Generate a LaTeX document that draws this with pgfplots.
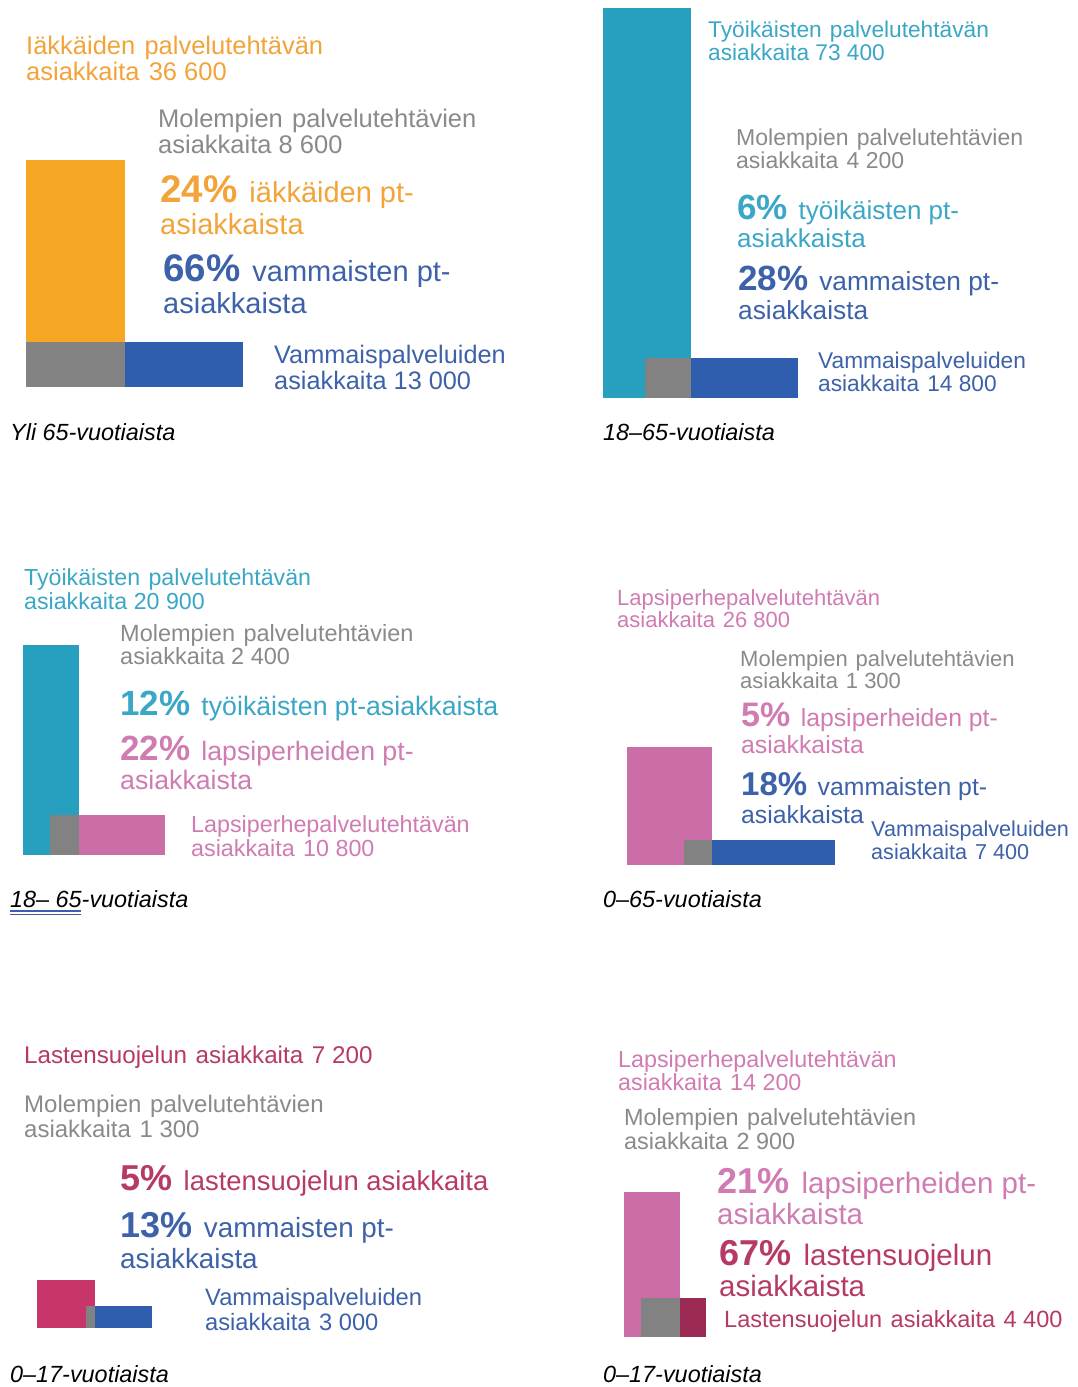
\documentclass[border=0pt]{standalone}
\usepackage{pgfplots}
\pgfplotsset{compat=1.18}
\usepackage{fontspec}
\setmainfont{Liberation Sans}
\definecolor{cOrange}{HTML}{F5A623}
\definecolor{tOrange}{HTML}{F2A43A}
\definecolor{cTeal}{HTML}{27A0C0}
\definecolor{tTeal}{HTML}{3AA7C6}
\definecolor{cGrey}{HTML}{828282}
\definecolor{tGrey}{HTML}{8A8A8A}
\definecolor{cBlue}{HTML}{2F5EAE}
\definecolor{tBlue}{HTML}{3D62AA}
\definecolor{cPink}{HTML}{CB6EA8}
\definecolor{tPink}{HTML}{D07CB2}
\definecolor{cCrim}{HTML}{C8356A}
\definecolor{cCrimD}{HTML}{9B2B55}
\definecolor{tCrim}{HTML}{B73A66}
\definecolor{ulBlue}{HTML}{3A5FB0}
% text line: x, baseline y, size, colour, text
\newcommand{\tl}[5]{\node[anchor=base west, inner sep=0pt, text=#4, font=\fontsize{#3}{#3}\selectfont] at (axis cs:#1,#2) {#5};}
\newcommand{\pc}[2]{{\bfseries\fontsize{#1}{#1}\selectfont #2\%}\hspace{0.42em}}
\newcommand{\s}{\hspace{0.36em}}
\begin{document}
\begin{tikzpicture}
\fill[white] (0,0) rectangle (1078pt,1387pt);
\useasboundingbox (0,0) rectangle (1078pt,1387pt);
\begin{axis}[at={(0,0)}, anchor=south west, scale only axis,
  width=1078pt, height=1387pt, xmin=0, xmax=1078, ymin=0, ymax=1387,
  y dir=reverse, hide axis, clip=false]
% ---- Panel 1: yli 65
\addplot[fill=cOrange, draw=none] coordinates {(26,160) (125,160) (125,387) (26,387)} --cycle;
\addplot[fill=cGrey, draw=none] coordinates {(26,342) (125,342) (125,387) (26,387)} --cycle;
\addplot[fill=cBlue, draw=none] coordinates {(125,342) (243,342) (243,387) (125,387)} --cycle;
% ---- Panel 2: 18-65
\addplot[fill=cTeal, draw=none] coordinates {(603,8) (691,8) (691,398) (603,398)} --cycle;
\addplot[fill=cGrey, draw=none] coordinates {(645,358) (691,358) (691,398) (645,398)} --cycle;
\addplot[fill=cBlue, draw=none] coordinates {(691,358) (798,358) (798,398) (691,398)} --cycle;
% ---- Panel 3: 18-65
\addplot[fill=cTeal, draw=none] coordinates {(23,645) (79,645) (79,855) (23,855)} --cycle;
\addplot[fill=cGrey, draw=none] coordinates {(50,815) (79,815) (79,855) (50,855)} --cycle;
\addplot[fill=cPink, draw=none] coordinates {(79,815) (165,815) (165,855) (79,855)} --cycle;
% ---- Panel 4: 0-65
\addplot[fill=cPink, draw=none] coordinates {(627,747) (712,747) (712,865) (627,865)} --cycle;
\addplot[fill=cGrey, draw=none] coordinates {(684,840) (712,840) (712,865) (684,865)} --cycle;
\addplot[fill=cBlue, draw=none] coordinates {(712,840) (835,840) (835,865) (712,865)} --cycle;
% ---- Panel 5: 0-17
\addplot[fill=cCrim, draw=none] coordinates {(37,1280) (95,1280) (95,1328) (37,1328)} --cycle;
\addplot[fill=cGrey, draw=none] coordinates {(86,1306) (95,1306) (95,1328) (86,1328)} --cycle;
\addplot[fill=cBlue, draw=none] coordinates {(95,1306) (152,1306) (152,1328) (95,1328)} --cycle;
% ---- Panel 6: 0-17
\addplot[fill=cPink, draw=none] coordinates {(624,1192) (680,1192) (680,1337) (624,1337)} --cycle;
\addplot[fill=cGrey, draw=none] coordinates {(641,1298) (680,1298) (680,1337) (641,1337)} --cycle;
\addplot[fill=cCrimD, draw=none] coordinates {(680,1298) (706,1298) (706,1337) (680,1337)} --cycle;

% ---- texts panel 1
\tl{26}{54}{25.5}{tOrange}{Iäkkäiden\s palvelutehtävän}
\tl{26}{80}{25.5}{tOrange}{asiakkaita\s 36 600}
\tl{158}{127}{25.5}{tGrey}{Molempien\s palvelutehtävien}
\tl{158}{153}{25.5}{tGrey}{asiakkaita 8 600}
\tl{160}{202}{29}{tOrange}{\pc{38.5}{24}iäkkäiden pt-}
\tl{160}{234}{29}{tOrange}{asiakkaista}
\tl{163}{281}{29}{tBlue}{\pc{38.5}{66}vammaisten pt-}
\tl{163}{313}{29}{tBlue}{asiakkaista}
\tl{274}{363}{25.3}{tBlue}{Vammaispalveluiden}
\tl{274}{389}{25.3}{tBlue}{asiakkaita 13 000}
\tl{10}{440}{23.4}{black}{\itshape Yli 65-vuotiaista}
% ---- texts panel 2
\tl{708}{37}{22.7}{tTeal}{Työikäisten\s palvelutehtävän}
\tl{708}{60}{22.7}{tTeal}{asiakkaita 73 400}
\tl{736}{145}{23}{tGrey}{Molempien\s palvelutehtävien}
\tl{736}{168}{23}{tGrey}{asiakkaita\s 4 200}
\tl{737}{219}{26}{tTeal}{\pc{35}{6}työikäisten pt-}
\tl{737}{247}{26}{tTeal}{asiakkaista}
\tl{738}{290}{26.3}{tBlue}{\pc{35}{28}vammaisten pt-}
\tl{738}{319}{26.3}{tBlue}{asiakkaista}
\tl{818}{368}{22.7}{tBlue}{Vammaispalveluiden}
\tl{818}{391}{22.7}{tBlue}{asiakkaita\s 14 800}
\tl{603}{440}{23.4}{black}{\itshape 18–65-vuotiaista}
% ---- texts panel 3
\tl{24}{585}{23.2}{tTeal}{Työikäisten\s palvelutehtävän}
\tl{24}{609}{23.2}{tTeal}{asiakkaita 20 900}
\tl{120}{641}{23.5}{tGrey}{Molempien\s palvelutehtävien}
\tl{120}{664}{23.5}{tGrey}{asiakkaita 2 400}
\tl{120}{715}{26.7}{tTeal}{\pc{35}{12}työikäisten pt-asiakkaista}
\tl{120}{760}{26.7}{tPink}{\pc{35}{22}lapsiperheiden pt-}
\tl{120}{789}{26.7}{tPink}{asiakkaista}
\tl{191}{832}{23.3}{tPink}{Lapsiperhepalvelutehtävän}
\tl{191}{856}{23.3}{tPink}{asiakkaita\s 10 800}
\tl{10}{907}{23.4}{black}{\itshape 18– 65-vuotiaista}
\draw[ulBlue, line width=1.2pt] (axis cs:10,911) -- (axis cs:81,911);
\draw[ulBlue, line width=1.2pt] (axis cs:10,914.5) -- (axis cs:81,914.5);
% ---- texts panel 4
\tl{617}{605}{22}{tPink}{Lapsiperhepalvelutehtävän}
\tl{617}{627}{22}{tPink}{asiakkaita\s 26 800}
\tl{740}{666}{22}{tGrey}{Molempien\s palvelutehtävien}
\tl{740}{688}{22}{tGrey}{asiakkaita\s 1 300}
\tl{741}{726}{24.8}{tPink}{\pc{34}{5}lapsiperheiden pt-}
\tl{741}{753}{24.8}{tPink}{asiakkaista}
\tl{741}{795}{24.8}{tBlue}{\pc{33}{18}vammaisten pt-}
\tl{741}{823}{24.8}{tBlue}{asiakkaista}
\tl{871}{836}{21.6}{tBlue}{Vammaispalveluiden}
\tl{871}{859}{21.6}{tBlue}{asiakkaita\s 7 400}
\tl{603}{907}{23.4}{black}{\itshape 0–65-vuotiaista}
% ---- texts panel 5
\tl{24}{1063}{24.2}{tCrim}{Lastensuojelun\s asiakkaita\s 7 200}
\tl{24}{1112}{24}{tGrey}{Molempien\s palvelutehtävien}
\tl{24}{1137}{24}{tGrey}{asiakkaita\s 1 300}
\tl{120}{1190}{27.4}{tCrim}{\pc{36}{5}lastensuojelun asiakkaita}
\tl{120}{1237}{27.8}{tBlue}{\pc{36}{13}vammaisten pt-}
\tl{120}{1268}{27.8}{tBlue}{asiakkaista}
\tl{205}{1305}{23.7}{tBlue}{Vammaispalveluiden}
\tl{205}{1330}{23.7}{tBlue}{asiakkaita\s 3 000}
\tl{10}{1382}{23.4}{black}{\itshape 0–17-vuotiaista}
% ---- texts panel 6
\tl{618}{1067}{23.3}{tPink}{Lapsiperhepalvelutehtävän}
\tl{618}{1090}{23.3}{tPink}{asiakkaita\s 14 200}
\tl{624}{1125}{23.4}{tGrey}{Molempien\s palvelutehtävien}
\tl{624}{1149}{23.4}{tGrey}{asiakkaita\s 2 900}
\tl{717}{1193}{29.5}{tPink}{\pc{36}{21}lapsiperheiden pt-}
\tl{717}{1224}{29.5}{tPink}{asiakkaista}
\tl{719}{1265}{29.5}{tCrim}{\pc{36}{67}lastensuojelun}
\tl{719}{1296}{29.5}{tCrim}{asiakkaista}
\tl{724}{1327}{23.5}{tCrim}{Lastensuojelun\s asiakkaita\s 4 400}
\tl{603}{1382}{23.4}{black}{\itshape 0–17-vuotiaista}
\end{axis}
\end{tikzpicture}
\end{document}
